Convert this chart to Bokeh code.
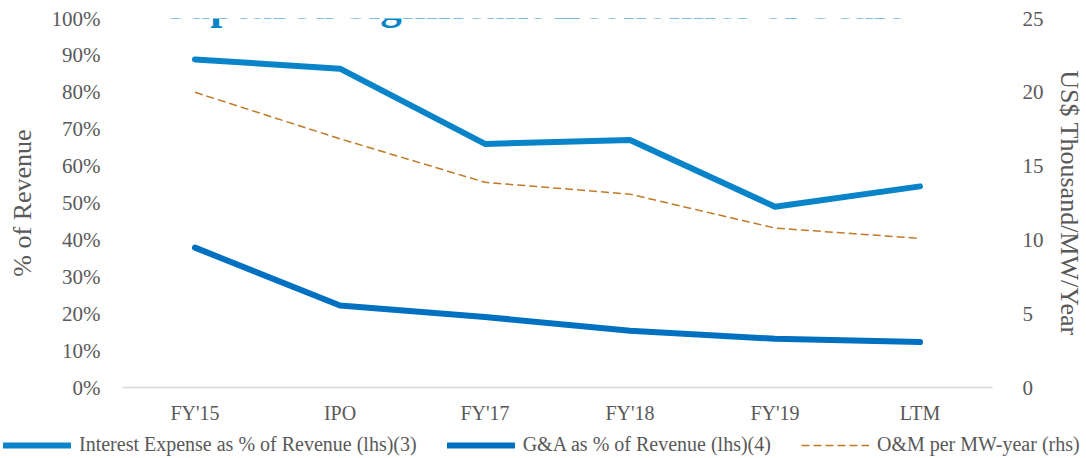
from bokeh.plotting import figure
from bokeh.layouts import column
from bokeh.models import Range1d, LinearAxis, FixedTicker, PrintfTickFormatter, Legend, LegendItem, Label, ColumnDataSource
from bokeh.embed import file_html
from bokeh.resources import INLINE

categories = ["FY'15", "IPO", "FY'17", "FY'18", "FY'19", "LTM"]
interest_pct = [88.9, 86.4, 66.0, 67.1, 49.0, 54.5]
ga_pct = [37.9, 22.2, 19.1, 15.4, 13.2, 12.3]
om_per_mw = [20.0, 16.85, 13.9, 13.1, 10.8, 10.1]
left_ticks = [0, 10, 20, 30, 40, 50, 60, 70, 80, 90, 100]
right_ticks = [0, 5, 10, 15, 20, 25]
series_names = ["Interest Expense as % of Revenue (lhs)(3)", "G&A as % of Revenue (lhs)(4)", "O&M per MW-year (rhs)"]

FONT = "Liberation Serif"
GRAY = "#595959"
C_INT = "#0A84C8"
C_GA = "#0070C0"
C_OM = "#C07A26"

src = ColumnDataSource(dict(cat=categories, interest=interest_pct, ga=ga_pct, om=om_per_mw))

p = figure(x_range=categories, y_range=Range1d(0, 100), width=1086, height=430,
           output_backend="svg", toolbar_location=None,
           min_border_left=122, min_border_right=88, min_border_top=18, min_border_bottom=43)
p.extra_y_ranges = {"rhs": Range1d(0, 25)}
p.outline_line_color = None
p.xgrid.grid_line_color = None
p.ygrid.grid_line_color = None
p.background_fill_color = "white"
p.border_fill_color = "white"

int_style = dict(line_color=C_INT, line_width=6, line_cap="round", line_join="round")
ga_style = dict(line_color=C_GA, line_width=6, line_cap="round", line_join="round")
om_style = dict(line_color=C_OM, line_width=1.5, line_dash="8 4")

p.line("cat", "interest", source=src, **int_style)
p.line("cat", "ga", source=src, **ga_style)
p.line("cat", "om", source=src, y_range_name="rhs", **om_style)

# left axis
ya = p.yaxis[0]
ya.ticker = FixedTicker(ticks=left_ticks)
ya.formatter = PrintfTickFormatter(format="%d%%")
ya.axis_line_color = None
ya.major_tick_line_color = None
ya.minor_tick_line_color = None
ya.major_tick_out = 0
ya.minor_tick_out = 0
ya.major_label_text_font = FONT
ya.major_label_text_font_size = "21px"
ya.major_label_text_color = GRAY
ya.major_label_standoff = 22
ya.axis_label = "% of Revenue"
ya.axis_label_text_font = FONT
ya.axis_label_text_font_size = "26px"
ya.axis_label_text_font_style = "normal"
ya.axis_label_text_color = GRAY
ya.axis_label_standoff = 12

# right axis
ra = LinearAxis(y_range_name="rhs", ticker=FixedTicker(ticks=right_ticks))
ra.axis_line_color = None
ra.major_tick_line_color = None
ra.minor_tick_line_color = None
ra.major_tick_out = 0
ra.minor_tick_out = 0
ra.major_label_text_font = FONT
ra.major_label_text_font_size = "21px"
ra.major_label_text_color = GRAY
ra.major_label_standoff = 30
ra.axis_label = "US$ Thousand/MW/Year"
ra.axis_label_text_font = FONT
ra.axis_label_text_font_size = "26px"
ra.axis_label_text_font_style = "normal"
ra.axis_label_text_color = GRAY
ra.axis_label_standoff = 8
p.add_layout(ra, "right")

# bottom axis
xa = p.xaxis[0]
xa.axis_line_color = "#D9D9D9"
xa.axis_line_width = 1.5
xa.major_tick_line_color = None
xa.minor_tick_line_color = None
xa.major_tick_out = 0
xa.major_label_text_font = FONT
xa.major_label_text_font_size = "20px"
xa.major_label_text_color = GRAY
xa.major_label_standoff = 14

title = Label(x=2.818, y=103.8, text="Captured Significant Economies of Scale",
              text_font=FONT, text_font_size="43px", text_font_style="bold",
              text_color=C_INT, text_align="center", text_baseline="alphabetic")
p.add_layout(title)

# legend strip below the chart
lg = figure(width=1086, height=28, output_backend="svg", toolbar_location=None,
            x_range=Range1d(0, 1), y_range=Range1d(0, 1),
            x_axis_location=None, y_axis_location=None,
            min_border_left=0, min_border_right=0, min_border_top=0, min_border_bottom=0)
try:
    lg.frame_align = False
except Exception:
    pass
lg.outline_line_color = None
lg.xgrid.grid_line_color = None
lg.ygrid.grid_line_color = None
nan = float("nan")
lg_r1 = lg.line(x=[nan], y=[nan], **int_style)
lg_r2 = lg.line(x=[nan], y=[nan], **ga_style)
lg_r3 = lg.line(x=[nan], y=[nan], **om_style)

legend = Legend(items=[
    LegendItem(label=series_names[0], renderers=[lg_r1]),
    LegendItem(label=series_names[1], renderers=[lg_r2]),
    LegendItem(label=series_names[2], renderers=[lg_r3]),
], orientation="horizontal", location=(3, 2))
legend.glyph_width = 68
legend.glyph_height = 20
legend.label_height = 20
legend.label_standoff = 8
legend.spacing = 30
legend.padding = 0
legend.margin = 0
legend.border_line_color = None
legend.background_fill_alpha = 0
legend.label_text_font = FONT
legend.label_text_font_size = "20px"
legend.label_text_color = GRAY
lg.add_layout(legend, "center")

layout = column(p, lg)
open("out.html", "w").write(file_html(layout, INLINE))
